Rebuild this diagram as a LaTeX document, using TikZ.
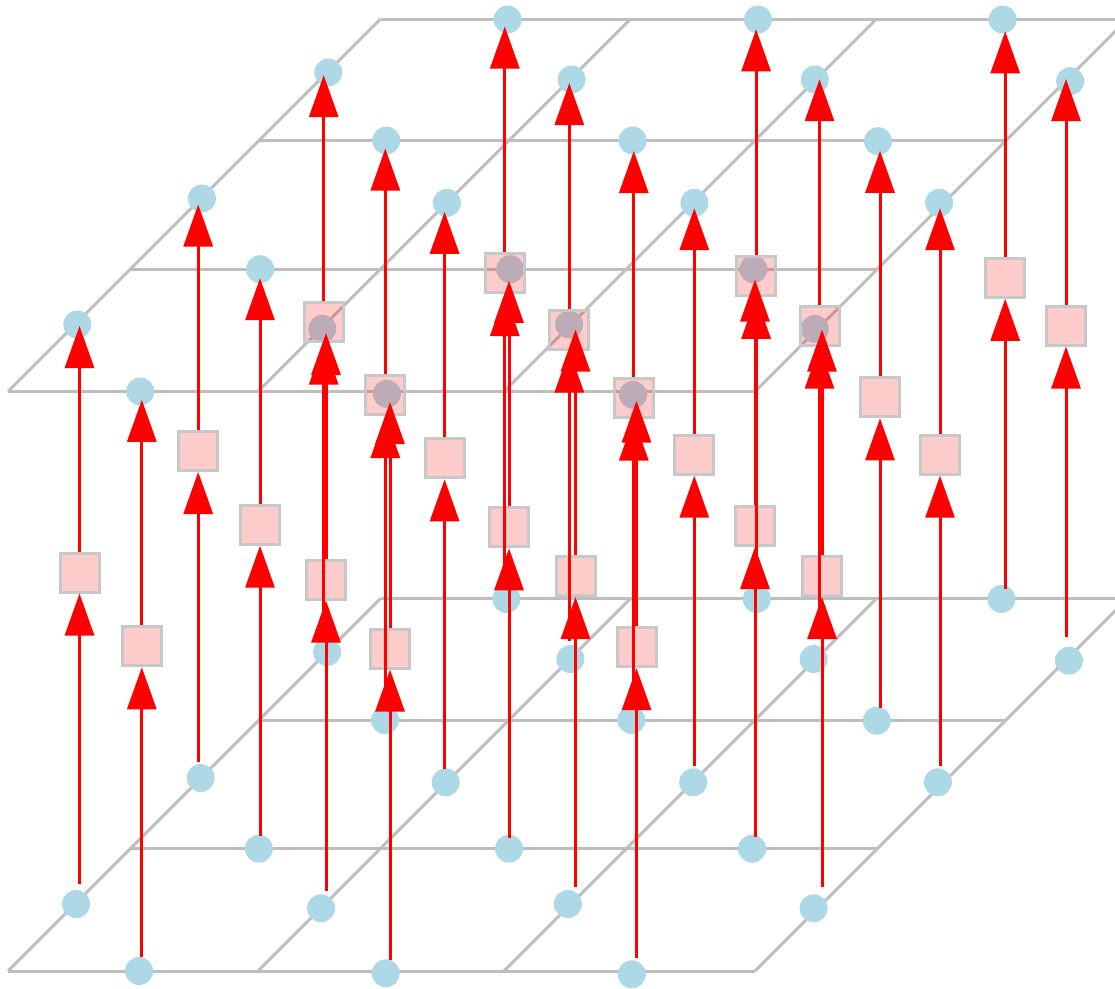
\documentclass[tikz,border=0pt]{standalone}
\usetikzlibrary{arrows.meta,calc}
\definecolor{gridgray}{RGB}{190,190,190}
\definecolor{dotblue}{RGB}{173,216,230}
\definecolor{boxedge}{RGB}{200,200,200}
\begin{document}
\begin{tikzpicture}[x=1pt,y=-1pt,
  gridline/.style={draw=gridgray,line width=3pt},
  qdot/.style={circle,fill=dotblue,minimum size=28pt,inner sep=0pt},
  qbox/.style={rectangle,fill=red,fill opacity=0.2,draw=boxedge,line width=3pt,minimum size=39pt,inner sep=0pt},
  flow/.style={draw=red,line width=3pt,-{Triangle[length=42pt,width=29pt]}}]
\useasboundingbox (0,0) rectangle (1115,988);
\clip (0,0) rectangle (1115,988);
% lattice planes (bottom and top)
\foreach \dy in {0,579.5} {
  \foreach \x/\y in {8/971,130.5/848.5,259/720,380.5/598.5}
    \draw[gridline] (\x,\y-\dy) -- ++(747,0);
  \foreach \x in {8,258,504,755}
    \draw[gridline] (\x,971-\dy) -- ++(372.5,-372.5);
}
% dots: bottom plane and top plane
\foreach \i/\bx/\by in {
  1/76.1/904, 2/139/971, 3/200.7/778, 4/258.9/848.7, 5/321.1/908.3, 6/327.1/652,
  7/385/720, 8/385.7/973.3, 9/445.7/782.3, 10/506.4/599, 11/509/848.7, 12/567.9/904,
  13/570.4/659, 14/631.4/720, 15/631.8/974.3, 16/693.2/782.3, 17/756.8/599, 18/752.1/848.7,
  19/813.6/908.3, 20/813.6/659, 21/876.8/720.7, 22/937.9/782.3, 23/1001.4/599, 24/1068.9/660.7}
{
  \node[qdot] (b\i) at (\bx,\by) {};
  \node[qdot] (t\i) at (\bx+1.2,\by-579.5) {};
}
% squares
\foreach \i/\sx/\sy in {
  1/79.5/572.5, 2/141.8/646.3, 3/198.2/451, 4/260/524.7, 5/326/579.5, 6/323.7/321.7,
  7/385.3/395, 8/390/648.5, 9/444.6/458.3, 10/504.8/273, 11/509/527.3, 12/575.5/576,
  13/569.3/329.5, 14/633.8/397.5, 15/636.5/647.2, 16/694.3/454.7, 17/756.1/275.8, 18/755/526,
  19/822/576, 20/819.5/325.7, 21/880/397.3, 22/940/454.7, 23/1005.2/277.8, 24/1066/325.5}
{
  \node[qbox] (s\i) at (\sx,\sy) {};
}
% arrows
\foreach \i in {1,...,24} {
  \coordinate (lo\i) at ($(s\i)+(0,311)$);
  \coordinate (hi\i) at ($(s\i)+(0,-246.5)$);
  \draw[flow] (lo\i) -- (s\i.south);
  \draw[flow] (s\i.north) -- (hi\i);
}
\end{tikzpicture}
\end{document}
